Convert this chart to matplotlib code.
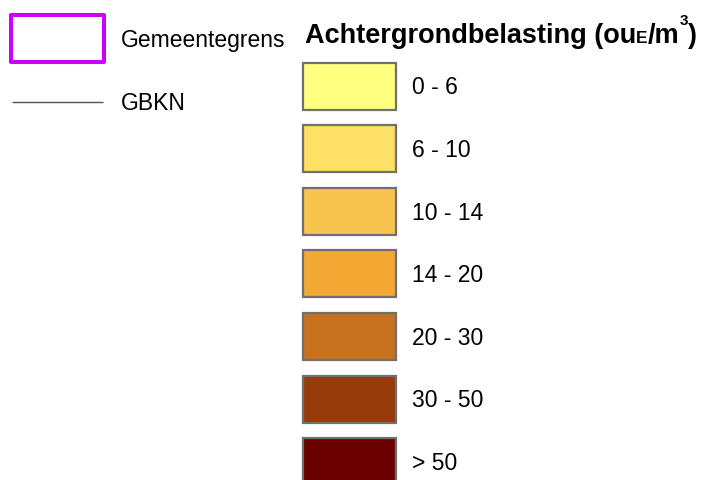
import matplotlib
matplotlib.use("Agg")
import matplotlib.pyplot as plt
from matplotlib.patches import Rectangle

plt.rcParams['font.family'] = ['Liberation Sans', 'DejaVu Sans']

# Data
class_labels = ["0 - 6", "6 - 10", "10 - 14", "14 - 20", "20 - 30", "30 - 50", "> 50"]
class_colors = ["#FFFF80", "#FDE065", "#F7C44D", "#F2A833", "#C7701E", "#983B0B", "#6B0000"]
boundary_label = "Gemeentegrens"
line_label = "GBKN"
title_parts = ["Achtergrondbelasting (ou", "E", "/m", "3", ")"]

W, H = 709, 481
fig = plt.figure(figsize=(W / 100, H / 100), dpi=100)
ax = fig.add_axes([0, 0, 1, 1])
ax.set_xlim(0, W)
ax.set_ylim(H, 0)
ax.axis('off')

LABEL_FS = 16.5

# Left legend: municipal boundary
ax.add_patch(Rectangle((11, 16), 93, 47, facecolor='white', edgecolor='#CC00FF',
                       linewidth=2.9, joinstyle='round'))
ax.text(121, 40, boundary_label, fontsize=LABEL_FS, va='center', ha='left', color='black')

# GBKN line
ax.plot([12, 103], [103, 103], color='#555555', linewidth=1.0, solid_capstyle='butt')
ax.text(121, 103, line_label, fontsize=LABEL_FS, va='center', ha='left', color='black')

# Title (built piecewise)
fig.canvas.draw()
renderer = fig.canvas.get_renderer()
x = 305
base_y = 43
specs = [(19.5, base_y), (12.5, base_y), (19.5, base_y), (11, 25), (19.5, base_y)]
for part, (fs, yb) in zip(title_parts, specs):
    t = ax.text(x, yb, part, fontsize=fs, fontweight='bold', va='baseline', ha='left')
    bb = t.get_window_extent(renderer=renderer)
    x += bb.width

# Class boxes
box_x, box_w, box_h = 303, 93, 47
y0, dy = 63.5, 62.6
for i, (lab, col) in enumerate(zip(class_labels, class_colors)):
    y = y0 + i * dy
    ax.add_patch(Rectangle((box_x, y), box_w, box_h, facecolor=col, edgecolor='#707070',
                           linewidth=1.6))
    ax.text(412, y + box_h / 2 + 1, lab, fontsize=LABEL_FS, va='center', ha='left', color='black')

fig.savefig("out.png", dpi=100)
